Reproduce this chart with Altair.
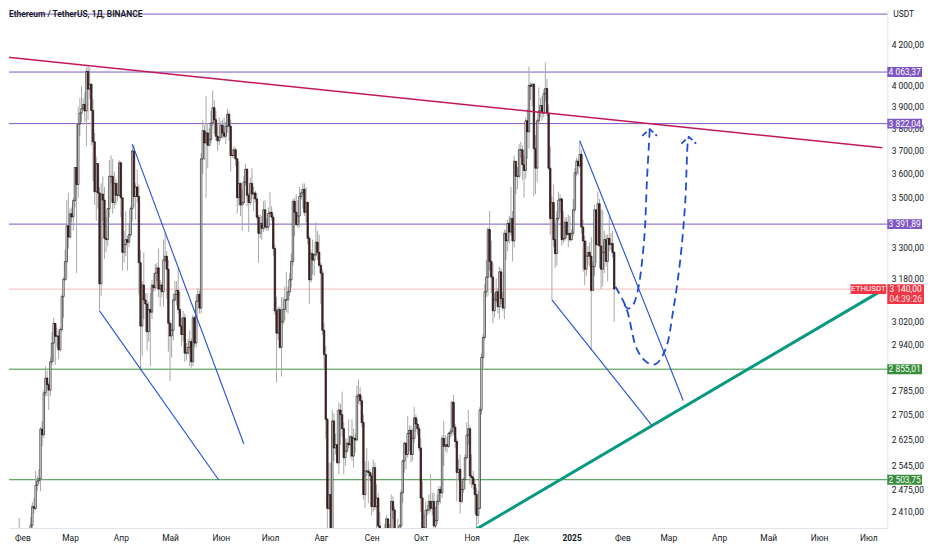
import altair as alt
import pandas as pd

# ETH/USDT daily candles, 26 Jan 2024 .. 27 Jan 2025 (a day opens at the previous close)
start_day = "2024-01-26"
first_open = 2218
closes = [
    2268, 2267, 2257, 2317, 2343, 2283,  # Jan 24
    2304, 2309, 2297, 2289, 2300, 2372, 2425, 2420, 2487, 2500, 2507, 2659, 2641, 2776, 2825, 2803, 2785, 2880, 2945, 3015,
    2969, 2970, 2922, 2993, 3112, 3176, 3244, 3385, 3340,  # Feb
    3434, 3421, 3488, 3628, 3555, 3820, 3870, 3890, 3910, 3880, 4066, 3982, 4005, 3882, 3740, 3525, 3645, 3520, 3160, 3515,
    3490, 3335, 3330, 3455, 3590, 3590, 3480, 3560, 3510, 3510, 3648,  # Mar
    3500, 3280, 3310, 3330, 3320, 3350, 3455, 3700, 3505, 3545, 3505, 3240, 3005, 3155, 3100, 3085, 2985, 3065, 3055, 3155,
    3145, 3200, 3220, 3140, 3155, 3130, 3250, 3265, 3215, 3015,  # Apr
    2970, 2990, 3100, 3120, 3135, 3065, 3005, 2975, 3035, 2910, 2910, 2930, 2950, 2880, 3035, 2945, 3095, 3120, 3070, 3665,
    3790, 3735, 3780, 3725, 3750, 3825, 3895, 3840, 3765, 3745, 3760,  # May
    3815, 3780, 3765, 3810, 3865, 3810, 3680, 3680, 3705, 3665, 3500, 3560, 3470, 3480, 3565, 3620, 3510, 3480, 3560, 3515,
    3520, 3495, 3420, 3355, 3395, 3375, 3450, 3380, 3380, 3435,  # Jun
    3440, 3420, 3295, 3060, 2980, 3065, 2930, 3020, 3065, 3100, 3100, 3130, 3175, 3245, 3485, 3440, 3390, 3425, 3505, 3520,
    3535, 3440, 3480, 3335, 3175, 3275, 3250, 3270, 3320, 3280, 3230,  # Jul
    3200, 2990, 2905, 2690, 2420, 2460, 2340, 2685, 2600, 2610, 2555, 2720, 2705, 2660, 2570, 2590, 2615, 2610, 2635, 2575,
    2630, 2625, 2765, 2770, 2750, 2680, 2460, 2530, 2530, 2525, 2515,  # Aug
    2425, 2540, 2425, 2450, 2370, 2225, 2275, 2300, 2360, 2390, 2340, 2360, 2440, 2415, 2315, 2290, 2340, 2370, 2465, 2560,
    2615, 2580, 2645, 2655, 2580, 2630, 2695, 2675, 2660, 2600,  # Sep
    2450, 2365, 2350, 2415, 2415, 2440, 2420, 2440, 2370, 2385, 2440, 2475, 2465, 2630, 2605, 2610, 2605, 2645, 2650, 2745,
    2665, 2620, 2525, 2535, 2440, 2475, 2505, 2570, 2640, 2660, 2515,  # Oct
    2510, 2490, 2460, 2400, 2420, 2720, 2895, 2965, 3130, 3185, 3370, 3245, 3185, 3060, 3100, 3130, 3075, 3205, 3105, 3070,
    3355, 3325, 3395, 3360, 3415, 3325, 3655, 3590, 3590, 3705,  # Nov
    3705, 3640, 3615, 3835, 3785, 4000, 3995, 4005, 3710, 3625, 3835, 3880, 3905, 3870, 3960, 3985, 3870, 3625, 3415, 3480,
    3330, 3275, 3415, 3490, 3495, 3330, 3335, 3400, 3350, 3355, 3330,  # Dec
    3355, 3450, 3605, 3655, 3635, 3685, 3380, 3325, 3215, 3265, 3280, 3265, 3135, 3225, 3450, 3310, 3475, 3305, 3215, 3280,
    3330, 3245, 3335, 3310, 3315, 3280, 3140,  # Jan 25
]
highs = [
    2272, 2284, 2305, 2320, 2392, 2350,
    2307, 2325, 2330, 2310, 2335, 2395, 2438, 2450, 2530, 2515, 2535, 2665, 2685, 2785, 2865, 2850, 2810, 2895, 2985, 3035,
    3015, 3000, 2990, 3000, 3120, 3185, 3290, 3490, 3520,
    3455, 3460, 3500, 3630, 3825, 3900, 3940, 3995, 3940, 3965, 4085, 4095, 4085, 4010, 3935, 3780, 3675, 3610, 3545, 3560,
    3590, 3545, 3420, 3455, 3660, 3680, 3665, 3610, 3580, 3565, 3660,
    3655, 3500, 3365, 3445, 3345, 3395, 3465, 3730, 3725, 3560, 3620, 3555, 3290, 3170, 3280, 3125, 3125, 3095, 3125, 3175,
    3200, 3235, 3240, 3295, 3175, 3165, 3330, 3355, 3285, 3250,
    3025, 3015, 3125, 3170, 3170, 3220, 3130, 3035, 3060, 3050, 2945, 2960, 2990, 2960, 3045, 3040, 3120, 3145, 3135, 3690,
    3840, 3815, 3950, 3825, 3800, 3880, 3975, 3930, 3880, 3825, 3850,
    3835, 3840, 3850, 3830, 3890, 3880, 3840, 3710, 3720, 3715, 3670, 3655, 3565, 3535, 3590, 3645, 3625, 3520, 3585, 3625,
    3545, 3530, 3520, 3430, 3430, 3425, 3485, 3490, 3415, 3460,
    3525, 3465, 3430, 3310, 3110, 3075, 3075, 3110, 3110, 3150, 3205, 3150, 3200, 3275, 3495, 3500, 3515, 3490, 3545, 3535,
    3560, 3560, 3545, 3485, 3345, 3290, 3330, 3275, 3400, 3365, 3350,
    3240, 3215, 3015, 2935, 2695, 2555, 2555, 2720, 2710, 2645, 2720, 2745, 2740, 2780, 2680, 2630, 2630, 2690, 2640, 2690,
    2660, 2645, 2800, 2820, 2795, 2765, 2705, 2560, 2600, 2560, 2535,
    2525, 2565, 2555, 2490, 2465, 2410, 2315, 2310, 2375, 2400, 2390, 2375, 2460, 2455, 2425, 2330, 2390, 2375, 2475, 2565,
    2620, 2615, 2700, 2670, 2670, 2660, 2730, 2705, 2690, 2670,
    2630, 2500, 2405, 2440, 2430, 2460, 2520, 2465, 2465, 2425, 2460, 2485, 2485, 2640, 2685, 2640, 2635, 2650, 2660, 2750,
    2770, 2675, 2630, 2565, 2580, 2500, 2510, 2580, 2680, 2720, 2670,
    2580, 2530, 2505, 2480, 2470, 2730, 2910, 2975, 3160, 3250, 3380, 3445, 3325, 3240, 3125, 3180, 3145, 3225, 3220, 3130,
    3370, 3370, 3410, 3425, 3545, 3445, 3680, 3640, 3630, 3730,
    3740, 3725, 3680, 3850, 3890, 4090, 4015, 4010, 4010, 3770, 3845, 3990, 3940, 3950, 3980, 4110, 4030, 3910, 3720, 3505,
    3555, 3395, 3445, 3525, 3515, 3500, 3445, 3420, 3420, 3430, 3425,
    3370, 3495, 3625, 3670, 3665, 3745, 3705, 3410, 3345, 3325, 3305, 3320, 3340, 3245, 3470, 3440, 3525, 3495, 3450, 3450,
    3365, 3350, 3350, 3425, 3355, 3365, 3285,
]
lows = [
    2205, 2255, 2235, 2238, 2317, 2265,
    2241, 2290, 2295, 2268, 2275, 2297, 2350, 2405, 2415, 2470, 2490, 2470, 2605, 2630, 2765, 2765, 2720, 2765, 2870, 2880,
    2870, 2930, 2890, 2915, 2985, 3035, 3170, 3175, 3295,
    3335, 3400, 3365, 3460, 3200, 3500, 3765, 3830, 3880, 3830, 3722, 3840, 3935, 3725, 3570, 3470, 3405, 3455, 3060, 3115,
    3405, 3255, 3280, 3305, 3420, 3560, 3435, 3455, 3470, 3485, 3505,
    3420, 3210, 3240, 3265, 3210, 3300, 3340, 3405, 3460, 3410, 3480, 3120, 2850, 2900, 3030, 2985, 2920, 2950, 2865, 3030,
    3130, 3135, 3170, 3110, 3075, 3110, 3075, 3240, 3105, 2915,
    2815, 2895, 2955, 3095, 3080, 3050, 3000, 2935, 2950, 2880, 2885, 2905, 2865, 2860, 2865, 2930, 2930, 3095, 3050, 3050,
    3600, 3660, 3500, 3625, 3720, 3735, 3810, 3775, 3745, 3700, 3725,
    3755, 3755, 3755, 3730, 3780, 3745, 3610, 3670, 3665, 3635, 3435, 3465, 3425, 3365, 3470, 3550, 3465, 3360, 3470, 3495,
    3445, 3480, 3410, 3240, 3335, 3330, 3360, 3370, 3365, 3365,
    3420, 3405, 3265, 3045, 2810, 2955, 2925, 2830, 3010, 3025, 3055, 3050, 3115, 3145, 3230, 3345, 3385, 3375, 3380, 3490,
    3455, 3425, 3400, 3310, 3085, 3165, 3195, 3190, 3265, 3250, 3225,
    3085, 2975, 2860, 2630, 2110, 2415, 2310, 2325, 2560, 2580, 2550, 2520, 2610, 2635, 2520, 2545, 2585, 2600, 2570, 2560,
    2540, 2585, 2620, 2740, 2735, 2665, 2445, 2420, 2515, 2435, 2500,
    2400, 2410, 2415, 2310, 2355, 2150, 2235, 2240, 2270, 2325, 2280, 2310, 2335, 2390, 2300, 2260, 2275, 2280, 2365, 2435,
    2525, 2535, 2570, 2590, 2555, 2560, 2615, 2650, 2640, 2590,
    2410, 2355, 2310, 2345, 2400, 2405, 2410, 2400, 2360, 2345, 2375, 2430, 2435, 2450, 2545, 2590, 2585, 2600, 2630, 2635,
    2640, 2600, 2440, 2505, 2405, 2435, 2465, 2475, 2565, 2610, 2490,
    2480, 2475, 2405, 2355, 2375, 2420, 2705, 2860, 2955, 3110, 3115, 3210, 3125, 3015, 3035, 3090, 3050, 3030, 3085, 3060,
    3030, 3250, 3285, 3315, 3345, 3245, 3300, 3515, 3535, 3580,
    3670, 3575, 3500, 3580, 3665, 3710, 3930, 3900, 3505, 3515, 3565, 3820, 3850, 3835, 3850, 3925, 3855, 3615, 3350, 3100,
    3300, 3220, 3230, 3405, 3440, 3305, 3315, 3325, 3335, 3300, 3320,
    3325, 3345, 3440, 3590, 3595, 3625, 3355, 3205, 3155, 3190, 3230, 3225, 2920, 3135, 3190, 3240, 3305, 3220, 3140, 3150,
    3200, 3225, 3170, 3285, 3290, 3260, 3020,
]
assert len(closes) == len(highs) == len(lows)

# horizontal levels
level_prices = [4353, 4063.37, 3822.04, 3391.89, 2855.01, 2503.75]
level_colors = ["#7e57c2", "#7e57c2", "#7e57c2", "#7e57c2", "#388e3c", "#388e3c"]
tag_prices = [4063.37, 3822.04, 3391.89, 2855.01, 2503.75]
tag_labels = ["4 063,37", "3 822,04", "3 391,89", "2 855,01", "2 503,75"]
tag_colors = ["#7e57c2", "#7e57c2", "#7e57c2", "#388e3c", "#388e3c"]
last_price = 3140
last_label = "3 140,00"
countdown = "04:39:26"

price_ticks = [2410, 2475, 2545, 2625, 2705, 2785, 2940, 3020, 3180,
               3300, 3500, 3600, 3700, 3800, 3900, 4000, 4200]

# drawn lines (date, price)
resistance = [("2024-01-22", 4136), ("2025-07-09T14:00:00Z", 3714)]
support = [("2024-11-04T06:00:00Z", 2362), ("2025-07-06T20:00:00Z", 3126)]
wedges = {
    "a": [("2024-03-19", 3060), ("2024-05-30T17:00:00Z", 2503)],
    "b": [("2024-04-08", 3730), ("2024-06-15", 2613)],
    "c": [("2024-12-20", 3100), ("2025-02-19T02:00:00Z", 2670)],
    "d": [("2025-01-06", 3745), ("2025-03-10T02:00:00Z", 2751)],
}
path_long = [("2025-01-27T18:00:00Z", 3149), ("2025-02-03T07:00:00Z", 3072), ("2025-02-09T22:00:00Z", 2923),
             ("2025-02-16T02:00:00Z", 2878), ("2025-02-21T07:00:00Z", 2872), ("2025-02-27T07:00:00Z", 2923),
             ("2025-03-04T02:00:00Z", 3065), ("2025-03-08T07:00:00Z", 3250), ("2025-03-11T07:00:00Z", 3477),
             ("2025-03-13T00:00:00Z", 3745), ("2025-03-13T14:00:00Z", 3762)]
path_short = [("2025-02-02T02:00:00Z", 3083), ("2025-02-04T12:00:00Z", 3068), ("2025-02-06T22:00:00Z", 3076),
              ("2025-02-10T02:00:00Z", 3126), ("2025-02-14T02:00:00Z", 3315), ("2025-02-16T02:00:00Z", 3586),
              ("2025-02-17T17:00:00Z", 3797)]
head_long = [("2025-03-09T00:00:00Z", 3732), ("2025-03-13T14:00:00Z", 3762), ("2025-03-18T00:00:00Z", 3732)]
head_short = [("2025-02-13T02:00:00Z", 3767), ("2025-02-17T17:00:00Z", 3797), ("2025-02-22T02:00:00Z", 3767)]

W, H = 885, 522
FONT = "Roboto"
TXT = "#131722"

dates = pd.date_range(start_day, periods=len(closes), freq="D").strftime("%Y-%m-%d")
candles = pd.DataFrame({
    "date": dates,
    "open": [first_open] + closes[:-1],
    "high": highs,
    "low": lows,
    "close": closes,
})


def seg_frame(groups):
    rows = []
    for g, pts in groups.items():
        for i, (d, p) in enumerate(pts):
            rows.append({"g": g, "o": i, "date": d, "price": p})
    return pd.DataFrame(rows)


xscale = alt.Scale(type="utc", domain=[alt.DateTime(year=2024, month=1, date=26, hours=18, minutes=43, utc=True),
                                       alt.DateTime(year=2025, month=7, date=9, hours=14, utc=True)])
months_ru = "['Янв','Фев','Мар','Апр','Май','Июн','Июл','Авг','Сен','Окт','Ноя','Дек']"
xaxis = alt.Axis(
    title=None, tickCount={"interval": "month", "step": 1}, ticks=False, grid=False, zindex=0,
    labelExpr=f"utcmonth(datum.value) == 0 ? utcFormat(datum.value, '%Y') : {months_ru}[utcmonth(datum.value)]",
    labelFontWeight={"condition": {"test": "utcmonth(datum.value) == 0", "value": "bold"}, "value": "normal"},
    domainColor="#e0e3eb", labelColor=TXT, labelFont=FONT, labelFontSize=8.5, labelPadding=6,
    labelOverlap=False, labelFlush=False,
)
yscale = alt.Scale(type="log", domain=[2364, 4374], nice=False, zero=False)
yaxis = alt.Axis(
    title=None, orient="right", values=price_ticks, ticks=False, grid=False, zindex=0,
    labelExpr="replace(replace(format(datum.value, ',.2f'), ',', ' '), '.', ',')",
    domainColor="#e0e3eb", labelColor=TXT, labelFont=FONT, labelFontSize=8.5, labelPadding=4,
    labelAlign="left", labelOverlap=False, labelFlush=False,
)


def X(field="date"):
    return alt.X(f"{field}:T", scale=xscale, axis=xaxis)


def Y(field):
    return alt.Y(f"{field}:Q", scale=yscale, axis=yaxis)


levels = alt.Chart(pd.DataFrame({"price": level_prices, "c": level_colors})).mark_rule(strokeWidth=1).encode(
    y=Y("price"), color=alt.Color("c:N", scale=None)
)
price_line = alt.Chart(pd.DataFrame({"price": [last_price]})).mark_rule(color="#f7b9bd", strokeWidth=1).encode(
    y=Y("price")
)

wicks = alt.Chart(candles).mark_rule(color="#a8a8a8", strokeWidth=1, clip=True).encode(
    x=X(), y=Y("low"), y2="high"
)
bodies = alt.Chart(candles).mark_bar(size=1.5, stroke="#000000", strokeWidth=0.6, clip=True).encode(
    x=X(), y=Y("open"), y2="close",
    color=alt.condition("datum.close >= datum.open", alt.value("#ffffff"), alt.value("#6b2525")),
)

res_line = alt.Chart(seg_frame({"r": resistance})).mark_line(color="#c2185b", strokeWidth=1.5, clip=True).encode(
    x=X(), y=Y("price"), order="o:Q"
)
sup_line = alt.Chart(seg_frame({"s": support})).mark_line(color="#089981", strokeWidth=3, clip=True).encode(
    x=X(), y=Y("price"), order="o:Q"
)
wedge_lines = alt.Chart(seg_frame(wedges)).mark_line(color="#2350d8", strokeWidth=1.1, clip=True).encode(
    x=X(), y=Y("price"), detail="g:N", order="o:Q"
)
curves = alt.Chart(seg_frame({"l": path_long, "s": path_short})).mark_line(
    color="#1f4bd1", strokeWidth=1.8, strokeDash=[8, 5], interpolate="catmull-rom", clip=True
).encode(x=X(), y=Y("price"), detail="g:N", order="o:Q")
heads = alt.Chart(seg_frame({"hl": head_long, "hs": head_short})).mark_line(
    color="#1f4bd1", strokeWidth=1.8, strokeDash=[6, 3], clip=True
).encode(x=X(), y=Y("price"), detail="g:N", order="o:Q")

tags_df = pd.DataFrame({"price": tag_prices, "label": tag_labels, "c": tag_colors})
tag_boxes = alt.Chart(tags_df).mark_tick(orient="horizontal", thickness=10, opacity=1).encode(
    y=Y("price"), x=alt.value(W + 17.5), size=alt.value(35), color=alt.Color("c:N", scale=None)
)
tag_text = alt.Chart(tags_df).mark_text(font=FONT, fontSize=8.5, color="#ffffff").encode(
    y=Y("price"), x=alt.value(W + 17.5), text="label:N"
)

last_df = pd.DataFrame({"price": [last_price], "label": [last_label], "cd": [countdown], "sym": ["ETHUSDT"]})
last_box = alt.Chart(last_df).mark_tick(orient="horizontal", thickness=20, yOffset=5, color="#f23645",
                                        opacity=1).encode(
    y=Y("price"), x=alt.value(W + 18.5), size=alt.value(37)
)
sym_box = alt.Chart(last_df).mark_tick(orient="horizontal", thickness=10, color="#f23645", opacity=1).encode(
    y=Y("price"), x=alt.value(W - 19), size=alt.value(36)
)
last_text = alt.Chart(last_df).mark_text(font=FONT, fontSize=8.5, color="#ffffff").encode(
    y=Y("price"), x=alt.value(W + 18.5), text="label:N"
)
cd_text = alt.Chart(last_df).mark_text(font=FONT, fontSize=8.5, color="#fde3e5", yOffset=10).encode(
    y=Y("price"), x=alt.value(W + 18.5), text="cd:N"
)
sym_text = alt.Chart(last_df).mark_text(font=FONT, fontSize=8, color="#ffffff").encode(
    y=Y("price"), x=alt.value(W - 19), text="sym:N"
)

title = alt.Chart(pd.DataFrame({"t": ["Ethereum / TetherUS, 1Д, BINANCE"]})).mark_text(
    font=FONT, fontSize=8.5, fontWeight=600, color=TXT, align="left", baseline="middle"
).encode(x=alt.value(0), y=alt.value(4), text="t:N")
unit = alt.Chart(pd.DataFrame({"t": ["USDT"]})).mark_text(
    font=FONT, fontSize=8.5, color=TXT, align="left", baseline="middle"
).encode(x=alt.value(W + 6), y=alt.value(4), text="t:N")

chart = alt.layer(
    levels, price_line, wicks, bodies, res_line, sup_line, wedge_lines, curves, heads,
    tag_boxes, tag_text, sym_box, last_box, last_text, cd_text, sym_text, title, unit,
).properties(
    width=W, height=H, padding=0, background="#ffffff"
).configure_view(stroke=None)

chart.save("out.html", embed_options={"renderer": "svg", "actions": False})
